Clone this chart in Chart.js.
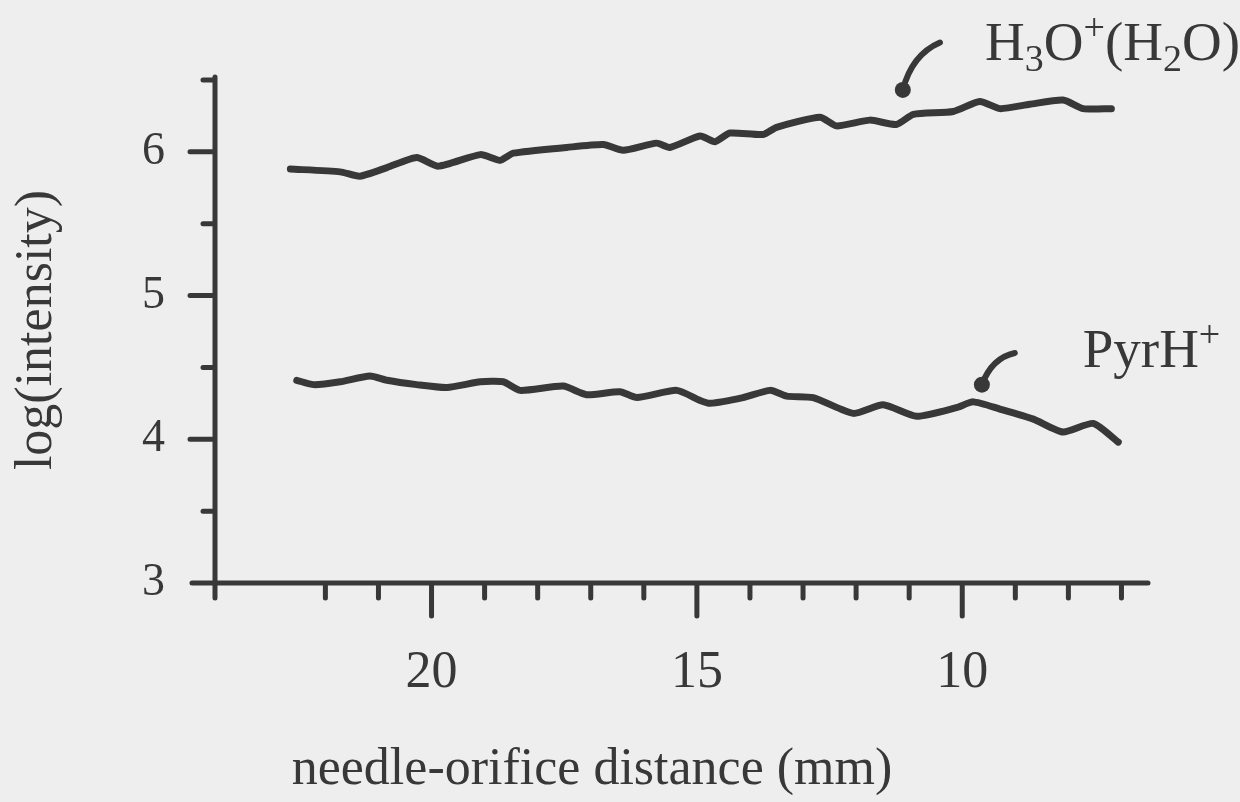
<!DOCTYPE html>
<html>
<head>
<meta charset="utf-8">
<script src="https://cdn.jsdelivr.net/npm/chart.js@4.4.0/dist/chart.umd.min.js"></script>
<style>
  html, body { margin: 0; padding: 0; background: #eeeeee; }
  #wrap { width: 1240px; height: 802px; }
</style>
</head>
<body>
<div id="wrap"><canvas id="canvas" width="1240" height="802"></canvas></div>
<script>
// distances in mm (axis runs from large to small), values are log(intensity)
var h3oDist = [22.66, 21.72, 21.35, 20.84, 20.28, 19.87, 19.08, 18.71, 18.46, 17.45, 16.76, 16.39, 15.76, 15.51, 14.94, 14.66,
	14.38, 13.75, 13.50, 12.68, 12.37, 11.74, 11.24, 10.92, 10.17, 9.67, 9.29, 8.73, 8.10, 7.72, 7.19];
var h3oLog = [5.88, 5.86, 5.83, 5.89, 5.96, 5.90, 5.98, 5.94, 5.99, 6.03, 6.05, 6.01, 6.06, 6.03, 6.11, 6.07,
	6.13, 6.12, 6.17, 6.24, 6.18, 6.22, 6.19, 6.26, 6.28, 6.35, 6.30, 6.33, 6.36, 6.30, 6.30];

var pyrDist = [22.54, 22.22, 21.72, 21.16, 20.84, 20.28, 19.71, 19.08, 18.65, 18.33, 17.52, 17.08, 16.45, 16.13, 15.38, 14.94,
	14.75, 14.13, 13.62, 13.31, 12.81, 12.05, 11.49, 10.86, 10.11, 9.79, 9.29, 8.66, 8.10, 7.53, 7.06];
var pyrLog = [4.41, 4.38, 4.40, 4.44, 4.41, 4.38, 4.36, 4.40, 4.40, 4.34, 4.37, 4.31, 4.33, 4.29, 4.34, 4.27,
	4.25, 4.29, 4.34, 4.30, 4.29, 4.18, 4.24, 4.16, 4.22, 4.26, 4.21, 4.14, 4.05, 4.11, 3.98];

var xTicks = [22, 21, 20, 19, 18, 17, 16, 15, 14, 13, 12, 11, 10, 9, 8, 7];
var xLabels = [20, 15, 10];
var yTicks = [3, 3.5, 4, 4.5, 5, 5.5, 6, 6.5];
var yLabels = [3, 4, 5, 6];

var xTitle = 'needle-orifice distance (mm)';
var yTitle = 'log(intensity)';

// labels with their arrows, positions in data units
var h3oLabel = [['H'], ['3', 'sub'], ['O'], ['+', 'sup'], ['('], ['H'], ['2', 'sub'], ['O'], [')']];
var pyrLabel = [['PyrH'], ['+', 'sup']];
var h3oLabelAt = [9.57, 6.64];
var pyrLabelAt = [7.73, 4.50];
var h3oArrow = [[10.42, 6.76], [10.95, 6.675], [11.12, 6.43]];
var pyrArrow = [[9.01, 4.60], [9.44, 4.566], [9.63, 4.38]];

var ink = '#383838';
var serif = "'Liberation Serif', 'Times New Roman', serif";

function pairs(xs, ys) {
	var out = [];
	for (var i = 0; i < xs.length; i++) {
		out.push({x: xs[i], y: ys[i]});
	}
	return out;
}

function richText(ctx, parts, x, y) {
	parts.forEach(function(p) {
		var small = p[1] == 'sub' || p[1] == 'sup';
		ctx.font = (small ? '38px ' : '55px ') + serif;
		var dy = p[1] == 'sub' ? 11 : (p[1] == 'sup' ? -20 : 0);
		ctx.fillText(p[0], x, y + dy);
		x += ctx.measureText(p[0]).width;
	});
}

function arrow(ctx, xs, ys, pts) {
	var p = pts.map(function(q) { return [xs.getPixelForValue(q[0]), ys.getPixelForValue(q[1])]; });
	ctx.lineWidth = 6;
	ctx.beginPath();
	ctx.moveTo(p[0][0], p[0][1]);
	ctx.quadraticCurveTo(p[1][0], p[1][1], p[2][0], p[2][1]);
	ctx.stroke();
	ctx.beginPath();
	ctx.arc(p[2][0], p[2][1], 8, 0, Math.PI * 2);
	ctx.fill();
}

var paperAxes = {
	id: 'paperAxes',
	afterDraw: function(chart) {
		var ctx = chart.ctx;
		var xs = chart.scales.x, ys = chart.scales.y;
		var a = chart.chartArea;
		ctx.save();
		ctx.strokeStyle = ink;
		ctx.fillStyle = ink;
		ctx.lineCap = 'round';
		ctx.lineJoin = 'round';
		ctx.lineWidth = 5;
		ctx.beginPath();
		ctx.moveTo(a.left - 23, a.bottom);
		ctx.lineTo(a.right, a.bottom);
		ctx.moveTo(a.left, a.top);
		ctx.lineTo(a.left, a.bottom + 15);
		xTicks.forEach(function(v) {
			var px = xs.getPixelForValue(v);
			var len = xLabels.indexOf(v) >= 0 ? 33 : 15;
			ctx.moveTo(px, a.bottom);
			ctx.lineTo(px, a.bottom + len);
		});
		yTicks.forEach(function(v) {
			if (v == 3) return;
			var py = ys.getPixelForValue(v);
			var len = yLabels.indexOf(v) >= 0 ? 25 : 12;
			ctx.moveTo(a.left - len, py);
			ctx.lineTo(a.left, py);
		});
		ctx.stroke();

		// x title
		ctx.font = '52px ' + serif;
		ctx.textAlign = 'center';
		ctx.textBaseline = 'middle';
		ctx.fillText(xTitle, 592, 770);

		// curve labels
		ctx.textAlign = 'left';
		ctx.textBaseline = 'alphabetic';
		richText(ctx, h3oLabel, xs.getPixelForValue(h3oLabelAt[0]), ys.getPixelForValue(h3oLabelAt[1]));
		richText(ctx, pyrLabel, xs.getPixelForValue(pyrLabelAt[0]), ys.getPixelForValue(pyrLabelAt[1]));
		arrow(ctx, xs, ys, h3oArrow);
		arrow(ctx, xs, ys, pyrArrow);
		ctx.restore();
	}
};

var ctx = document.getElementById('canvas');

window.myChart = new Chart(ctx, {
	type: 'line',
	data: {
		datasets: [{
			label: 'H3O+(H2O)',
			data: pairs(h3oDist, h3oLog),
			borderColor: ink,
			borderWidth: 7,
			tension: 0.2,
			pointRadius: 0,
			borderCapStyle: 'round',
			borderJoinStyle: 'round'
		}, {
			label: 'PyrH+',
			data: pairs(pyrDist, pyrLog),
			borderColor: ink,
			borderWidth: 7,
			tension: 0.2,
			pointRadius: 0,
			borderCapStyle: 'round',
			borderJoinStyle: 'round'
		}]
	},
	options: {
		responsive: false,
		devicePixelRatio: 1,
		animation: false,
		layout: { padding: { top: 77, right: 92, left: 0, bottom: 0 } },
		plugins: { legend: { display: false }, tooltip: { enabled: false } },
		scales: {
			x: {
				type: 'linear',
				reverse: true,
				min: 6.5,
				max: 24.08,
				afterBuildTicks: function(scale) {
					scale.ticks = xTicks.map(function(v) { return {value: v}; });
				},
				afterFit: function(scale) { scale.height = 219; },
				ticks: {
					autoSkip: false,
					maxRotation: 0,
					padding: 44,
					color: ink,
					font: { family: serif, size: 52 },
					callback: function(v) { return xLabels.indexOf(v) >= 0 ? String(v) : ''; }
				},
				grid: { drawOnChartArea: false, tickLength: 15, tickColor: 'rgba(0,0,0,0)' },
				border: { display: false }
			},
			y: {
				type: 'linear',
				min: 3,
				max: 6.52,
				afterBuildTicks: function(scale) {
					scale.ticks = yTicks.map(function(v) { return {value: v}; });
				},
				afterFit: function(scale) { scale.width = 215; },
				ticks: {
					autoSkip: false,
					padding: 25,
					color: ink,
					font: { family: serif, size: 46 },
					callback: function(v) { return yLabels.indexOf(v) >= 0 ? String(v) : ''; }
				},
				grid: { drawOnChartArea: false, tickLength: 25, tickColor: 'rgba(0,0,0,0)' },
				border: { display: false },
				title: {
					display: true,
					text: yTitle,
					color: ink,
					font: { family: serif, size: 52 },
					padding: { top: 6, bottom: 0 }
				}
			}
		}
	},
	plugins: [paperAxes]
});
</script>
</body>
</html>
